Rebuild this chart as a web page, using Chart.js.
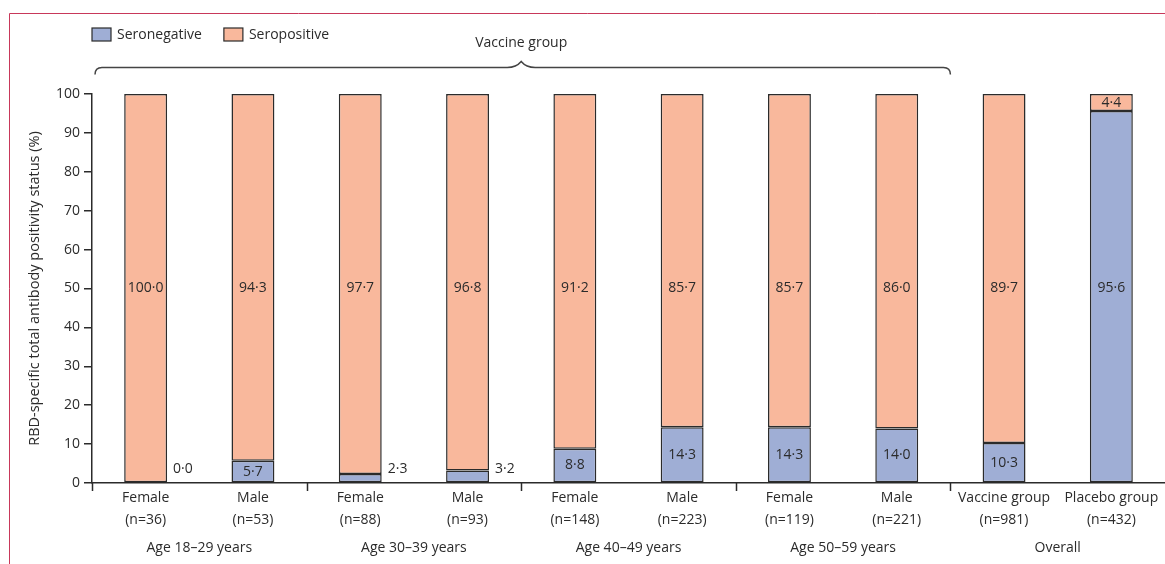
<!DOCTYPE html>
<html>
<head>
<meta charset="utf-8">
<script src="https://cdn.jsdelivr.net/npm/chart.js@4/dist/chart.umd.min.js"></script>
<style>
  html, body { margin: 0; padding: 0; background: #fff; }
  canvas { display: block; }
</style>
</head>
<body>
<canvas id="chart" width="1165" height="564"></canvas>
<script>
// RBD-specific antibody positivity by age group, sex and overall

const categories = [
    ['Female', '(n=36)'], ['Male', '(n=53)'],
    ['Female', '(n=88)'], ['Male', '(n=93)'],
    ['Female', '(n=148)'], ['Male', '(n=223)'],
    ['Female', '(n=119)'], ['Male', '(n=221)'],
    ['Vaccine group', '(n=981)'], ['Placebo group', '(n=432)']
];
const groupLabels = ['Age 18–29 years', 'Age 30–39 years', 'Age 40–49 years', 'Age 50–59 years', 'Overall'];
const seronegative = [0.0, 5.7, 2.3, 3.2, 8.8, 14.3, 14.3, 14.0, 10.3, 95.6];
const seropositive = [100.0, 94.3, 97.7, 96.8, 91.2, 85.7, 85.7, 86.0, 89.7, 4.4];
const braceLabel = 'Vaccine group';
const yTicks = [0, 10, 20, 30, 40, 50, 60, 70, 80, 90, 100];

const FONT = '"Open Sans", "Noto Sans", sans-serif';
const INK = '#2b2b2b';
const fmt = (v) => v.toFixed(1).replace('.', '·');

const decorations = {
    id: 'decorations',
    afterDraw(chart) {
        const { ctx, chartArea, scales: { x, y } } = chart;
        const step = x.getPixelForValue(1) - x.getPixelForValue(0);
        ctx.save();

        // figure frame (top and left rule)
        ctx.strokeStyle = '#c8385a';
        ctx.lineWidth = 1;
        ctx.beginPath();
        ctx.moveTo(9.5, 564);
        ctx.lineTo(9.5, 13.5);
        ctx.lineTo(1165, 13.5);
        ctx.stroke();

        // legend
        ctx.font = '14px ' + FONT;
        ctx.textBaseline = 'middle';
        ctx.textAlign = 'left';
        let lx = 92;
        chart.data.datasets.forEach((ds) => {
            ctx.fillStyle = ds.backgroundColor;
            ctx.fillRect(lx, 28, 19, 13);
            ctx.strokeStyle = INK;
            ctx.lineWidth = 1.2;
            ctx.strokeRect(lx, 28, 19, 13);
            ctx.fillStyle = INK;
            ctx.fillText(ds.label, lx + 25, 35);
            lx += 25 + ctx.measureText(ds.label).width + 22;
        });

        // brace over the vaccine subgroups
        const bx0 = chartArea.left + 3;
        const bx1 = x.getPixelForValue(7) + step / 2;
        const mid = (chartArea.left + bx1) / 2;
        const by = 67.5;
        ctx.strokeStyle = '#444';
        ctx.lineWidth = 1.5;
        ctx.beginPath();
        ctx.moveTo(bx0, by + 7);
        ctx.quadraticCurveTo(bx0, by, bx0 + 7, by);
        ctx.lineTo(mid - 14, by);
        ctx.quadraticCurveTo(mid - 5, by, mid, by - 6);
        ctx.quadraticCurveTo(mid + 5, by, mid + 14, by);
        ctx.lineTo(bx1 - 7, by);
        ctx.quadraticCurveTo(bx1, by, bx1, by + 7);
        ctx.stroke();
        ctx.fillStyle = INK;
        ctx.textAlign = 'center';
        ctx.fillText(braceLabel, mid, 43);

        // group separators and group labels under the x axis
        ctx.strokeStyle = INK;
        ctx.lineWidth = 1.5;
        for (let g = 0; g < groupLabels.length; g++) {
            const left = Math.round(x.getPixelForValue(2 * g) - step / 2) + 0.5;
            ctx.beginPath();
            ctx.moveTo(left, chartArea.bottom);
            ctx.lineTo(left, chartArea.bottom + 8);
            ctx.stroke();
            const cx = (x.getPixelForValue(2 * g) + x.getPixelForValue(2 * g + 1)) / 2;
            ctx.fillText(groupLabels[g], cx, 548);
        }

        // value labels
        ctx.font = '14px ' + FONT;
        chart.data.datasets.forEach((ds, di) => {
            chart.getDatasetMeta(di).data.forEach((bar, i) => {
                const v = ds.data[i];
                const top = Math.min(bar.y, bar.base);
                const bottom = Math.max(bar.y, bar.base);
                ctx.fillStyle = INK;
                if (v > 50) {
                    ctx.textAlign = 'center';
                    ctx.fillText(fmt(v), bar.x, y.getPixelForValue(50));
                } else if (v >= 4) {
                    ctx.textAlign = 'center';
                    ctx.fillText(fmt(v), bar.x, (top + bottom) / 2);
                } else {
                    ctx.textAlign = 'left';
                    ctx.fillText(fmt(v), bar.x + bar.width / 2 + 6, y.getPixelForValue(3.6));
                }
            });
        });
        ctx.restore();
    }
};

new Chart(document.getElementById('chart').getContext('2d'), {
    type: 'bar',
    data: {
        labels: categories,
        datasets: [
            { label: 'Seronegative', data: seronegative, backgroundColor: '#9faed5' },
            { label: 'Seropositive', data: seropositive, backgroundColor: '#f9b89c' }
        ]
    },
    options: {
        responsive: false,
        animation: false,
        layout: { padding: { top: 94, left: 0, right: 0, bottom: 0 } },
        datasets: {
            bar: {
                borderColor: INK,
                borderWidth: 1.5,
                borderSkipped: false,
                categoryPercentage: 0.8,
                barPercentage: 0.5
            }
        },
        plugins: { legend: { display: false }, tooltip: { enabled: false } },
        scales: {
            x: {
                stacked: true,
                grid: { display: false, drawTicks: false },
                border: { display: true, color: INK, width: 1.5 },
                ticks: { color: INK, font: { family: FONT, size: 14, lineHeight: 1.57 }, padding: 4, maxRotation: 0, autoSkip: false },
                afterFit: (scale) => { scale.height = 81; }
            },
            y: {
                stacked: true,
                min: 0,
                max: 100,
                afterBuildTicks: (scale) => { scale.ticks = yTicks.map((v) => ({ value: v })); },
                grid: { drawOnChartArea: false, tickLength: 8, color: INK, lineWidth: 1.5 },
                border: { display: true, color: INK, width: 1.5 },
                ticks: { color: INK, font: { family: FONT, size: 14 }, padding: 4 },
                title: {
                    display: true,
                    text: 'RBD-specific total antibody positivity status (%)',
                    color: INK,
                    font: { family: FONT, size: 14.5 },
                    padding: { top: 26 }
                },
                afterFit: (scale) => { scale.width = 92; }
            }
        }
    },
    plugins: [decorations]
});
</script>
</body>
</html>
